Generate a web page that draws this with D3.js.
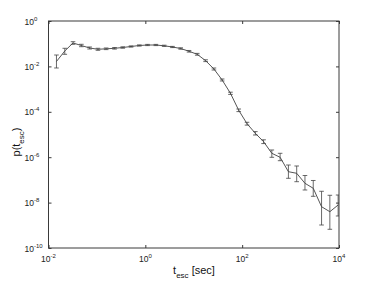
<!DOCTYPE html>
<html>
<head>
<meta charset="utf-8">
<script src="https://cdn.jsdelivr.net/npm/d3@7"></script>
<style>
  html, body { margin: 0; padding: 0; background: #fff; }
  svg { display: block; font-family: "Liberation Sans", Arial, sans-serif; }
</style>
</head>
<body>
<svg id="chart" width="374" height="281"></svg>
<script>
// escape times (sec)
const tEsc = [0.0146, 0.0217, 0.0321, 0.0477, 0.0707, 0.105, 0.155, 0.231, 0.342, 0.507,
  0.751, 1.11, 1.65, 2.45, 3.63, 5.38, 7.98, 11.8, 17.6, 26.1,
  38.6, 57.3, 84.9, 126, 187, 277, 410, 608, 902, 1337,
  1982, 2938, 4361, 6471, 9594];
// probability p(t_esc)
const pVal = [0.01644, 0.0477, 0.1074, 0.0833, 0.0647, 0.0567, 0.0596, 0.0627, 0.0680, 0.0753,
  0.0833, 0.0876, 0.0876, 0.0808, 0.0716, 0.0614, 0.0463, 0.0341, 0.01783, 0.00768,
  0.00252, 6.53e-4, 1.164e-4, 2.99e-5, 1.13e-5, 4.82e-6, 1.485e-6, 9.90e-7, 2.30e-7, 1.953e-7,
  7.08e-8, 4.27e-8, 6.60e-9, 3.97e-9, 7.84e-9];
// error bar lower bounds
const pLow = [0.00851, 0.0341, 0.0941, 0.0738, 0.0584, 0.0512, 0.0549, 0.0578, 0.0633, 0.0708,
  0.0784, 0.0824, 0.0824, 0.0760, 0.0674, 0.0572, 0.0427, 0.0311, 0.01627, 0.00694,
  0.00228, 5.84e-4, 1.020e-4, 2.59e-5, 9.5e-6, 3.98e-6, 9.90e-7, 7.01e-7, 1.176e-7, 8.33e-8,
  3.59e-8, 1.895e-8, 1.03e-9, 6.67e-10, 2.57e-9];
// error bar upper bounds
const pHigh = [0.03177, 0.0627, 0.1225, 0.0940, 0.0716, 0.0628, 0.0647, 0.0680, 0.0730, 0.0800,
  0.0885, 0.0931, 0.0931, 0.0859, 0.0761, 0.0659, 0.0502, 0.0374, 0.01954, 0.00850,
  0.00279, 7.30e-4, 1.328e-4, 3.45e-5, 1.34e-5, 5.84e-6, 2.076e-6, 1.485e-6, 4.53e-7, 4.10e-7,
  1.562e-7, 9.41e-8, 3.15e-8, 2.10e-8, 2.16e-8];

const xTicks = [1e-2, 1e0, 1e2, 1e4];
const xTickExp = ["-2", "0", "2", "4"];
const yTicks = [1e-10, 1e-8, 1e-6, 1e-4, 1e-2, 1e0];
const yTickExp = ["-10", "-8", "-6", "-4", "-2", "0"];

const svg = d3.select("#chart");
const L = 48.5, R = 339, T = 21, B = 248;
const x = d3.scaleLog().domain([1e-2, 1e4]).range([L, R]);
const y = d3.scaleLog().domain([1e-10, 1e0]).range([B, T]);

const axisColor = "#3a3a3a";
const lineColor = "#2a2a2a";

// box
svg.append("rect").attr("x", L).attr("y", T).attr("width", R - L).attr("height", B - T)
  .attr("fill", "none").attr("stroke", axisColor).attr("stroke-width", 1);

// axes with inward ticks
const gx = svg.append("g").attr("transform", `translate(0,${B})`)
  .call(d3.axisBottom(x).tickValues(xTicks).tickSize(-3).tickPadding(6).tickFormat(() => ""));
const gxt = svg.append("g").attr("transform", `translate(0,${T})`)
  .call(d3.axisTop(x).tickValues(xTicks).tickSize(-3).tickFormat(() => ""));
const gy = svg.append("g").attr("transform", `translate(${L},0)`)
  .call(d3.axisLeft(y).tickValues(yTicks).tickSize(-3).tickFormat(() => ""));
const gyr = svg.append("g").attr("transform", `translate(${R},0)`)
  .call(d3.axisRight(y).tickValues(yTicks).tickSize(-3).tickFormat(() => ""));
[gx, gxt, gy, gyr].forEach(g => {
  g.select(".domain").remove();
  g.selectAll(".tick line").attr("stroke", axisColor).attr("stroke-width", 1);
});

// x tick labels 10^n
xTicks.forEach((v, i) => {
  const t = svg.append("text").attr("x", x(v)).attr("y", 262).attr("text-anchor", "middle")
    .attr("font-size", 8.5).attr("fill", "#222");
  t.append("tspan").text("10");
  t.append("tspan").attr("dy", -4).attr("font-size", 6).text(xTickExp[i]);
});
// y tick labels 10^n
yTicks.forEach((v, i) => {
  const t = svg.append("text").attr("x", 24.5).attr("y", y(v) + 3.5).attr("text-anchor", "start")
    .attr("font-size", 8.5).attr("fill", "#222");
  t.append("tspan").text("10");
  t.append("tspan").attr("dy", -4).attr("font-size", 6).text(yTickExp[i]);
});

// axis titles
const xl = svg.append("text").attr("x", 194).attr("y", 274).attr("text-anchor", "middle")
  .attr("font-size", 11).attr("fill", "#111");
xl.append("tspan").text("t");
xl.append("tspan").attr("dy", 3.5).attr("font-size", 8).text("esc");
xl.append("tspan").attr("dy", -3.5).text(" [sec]");

const yl = svg.append("text").attr("transform", "translate(20,142) rotate(-90)")
  .attr("text-anchor", "middle").attr("font-size", 11).attr("fill", "#111");
yl.append("tspan").text("p(t");
yl.append("tspan").attr("dy", 3.5).attr("font-size", 8).text("esc");
yl.append("tspan").attr("dy", -3.5).text(")");

// data
const data = tEsc.map((t, i) => ({ t, p: pVal[i], lo: pLow[i], hi: pHigh[i] }));

const g = svg.append("g");
g.append("path").datum(data)
  .attr("fill", "none").attr("stroke", lineColor).attr("stroke-width", 0.8)
  .attr("d", d3.line().x(d => x(d.t)).y(d => y(d.p)));

const cap = 2.3;
const eb = g.selectAll("g.eb").data(data).join("g").attr("class", "eb")
  .attr("stroke", "#444").attr("stroke-width", 0.8);
eb.append("line").attr("x1", d => x(d.t)).attr("x2", d => x(d.t))
  .attr("y1", d => y(d.lo)).attr("y2", d => y(d.hi));
eb.append("line").attr("x1", d => x(d.t) - cap).attr("x2", d => Math.min(R, x(d.t) + cap))
  .attr("y1", d => y(d.lo)).attr("y2", d => y(d.lo));
eb.append("line").attr("x1", d => x(d.t) - cap).attr("x2", d => Math.min(R, x(d.t) + cap))
  .attr("y1", d => y(d.hi)).attr("y2", d => y(d.hi));
</script>
</body>
</html>
